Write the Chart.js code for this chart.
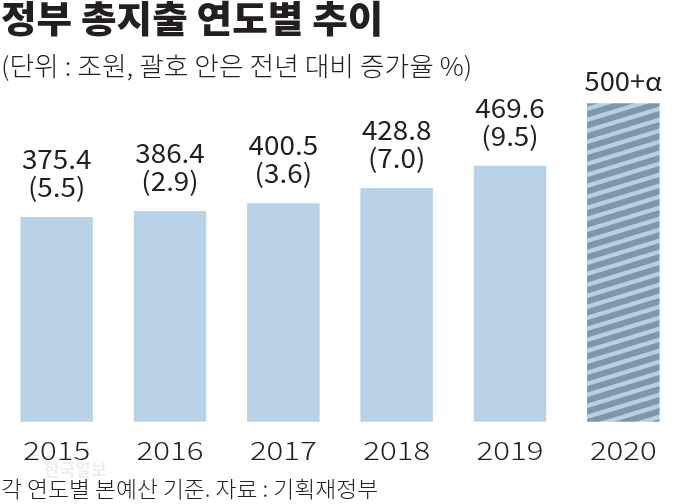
<!DOCTYPE html>
<html>
<head>
<meta charset="utf-8">
<script src="https://cdn.jsdelivr.net/npm/chart.js@4.4.1/dist/chart.umd.min.js"></script>
<style>
  html, body { margin: 0; padding: 0; background: #fff; }
  #wrap { width: 680px; height: 504px; position: relative; }
</style>
</head>
<body>
<div id="wrap"><canvas id="spending" width="680" height="504"></canvas></div>
<script>
// Data
const years = ['2015', '2016', '2017', '2018', '2019', '2020'];
// 2020 bar is drawn taller than scale
const totals = [375.4, 386.4, 400.5, 428.8, 469.6, 584];
const valueLabels = ['375.4', '386.4', '400.5', '428.8', '469.6', '500+α'];
const growthLabels = ['(5.5)', '(2.9)', '(3.6)', '(7.0)', '(9.5)', ''];

const titleText = '정부 총지출 연도별 추이';
const subtitleText = '(단위 : 조원, 괄호 안은 전년 대비 증가율 %)';
const footerText = '각 연도별 본예산 기준. 자료 : 기획재정부';

const KR = '"Noto Sans CJK KR", "Noto Sans", sans-serif';

// Hatched fill for the 2020 (projected) bar
function makeStripes() {
    const w = 36, h = 11;
    const c = document.createElement('canvas');
    c.width = w; c.height = h;
    const g = c.getContext('2d');
    g.fillStyle = '#7f97aa';
    g.fillRect(0, 0, w, h);
    g.fillStyle = '#b6d1e6';
    for (let j = -1; j <= 2; j++) {
        const y0 = j * h;
        g.beginPath();
        g.moveTo(0, y0);
        g.lineTo(w, y0 - h);
        g.lineTo(w, y0 - h + 4.5);
        g.lineTo(0, y0 + 4.5);
        g.closePath();
        g.fill();
    }
    return g.createPattern(c, 'repeat');
}

const barColors = totals.map((v, i) => i === totals.length - 1 ? makeStripes() : '#b8d3e8');

// text drawn a bit wider than the font's own width (the original face is wider)
function wideText(ctx, text, x, y, sx) {
    ctx.save();
    ctx.translate(x, y);
    ctx.scale(sx, 1);
    ctx.fillText(text, 0, 0);
    ctx.restore();
}

// Title, notes, value labels and year labels
const textPlugin = {
    id: 'textPlugin',
    afterDatasetsDraw(chart) {
        const ctx = chart.ctx;
        const meta = chart.getDatasetMeta(0);
        ctx.save();
        ctx.fillStyle = '#231f20';
        ctx.textAlign = 'center';
        ctx.textBaseline = 'alphabetic';

        meta.data.forEach((bar, i) => {
            const top = bar.y;
            ctx.font = '26px ' + KR;
            if (growthLabels[i]) {
                wideText(ctx, valueLabels[i], bar.x, top - 48, 1.07);
                wideText(ctx, growthLabels[i], bar.x, top - 20, 1.07);
            } else {
                wideText(ctx, valueLabels[i], bar.x, top - 12, 1.05);
            }
        });

        // year labels under the bars
        const xs = chart.scales.x;
        ctx.font = '300 25px ' + KR;
        ctx.textBaseline = 'middle';
        years.forEach((y, i) => {
            wideText(ctx, y, xs.getPixelForValue(i), 450, 1.25);
        });

        ctx.textAlign = 'left';
        ctx.font = '900 37px ' + KR;
        wideText(ctx, titleText, 1, 19, 1.045);
        ctx.font = '300 26px ' + KR;
        wideText(ctx, subtitleText, 1, 66, 1.03);
        ctx.font = '300 22px ' + KR;
        wideText(ctx, footerText, 1, 489, 1.036);

        // faint watermark
        ctx.fillStyle = 'rgba(0,0,0,0.07)';
        ctx.font = 'bold 17px ' + KR;
        ctx.fillText('한국일보', 44, 470);
        ctx.restore();
    }
};

const chartdata = {
    labels: years,
    datasets: [{
        data: totals,
        backgroundColor: barColors,
        borderWidth: 0,
        barPercentage: 0.64,
        categoryPercentage: 1.0
    }]
};

const chartconfig = {
    type: 'bar',
    data: chartdata,
    options: {
        responsive: false,
        animation: false,
        layout: { padding: { top: 100, bottom: 79, left: 0, right: 0 } },
        plugins: {
            legend: { display: false },
            tooltip: { enabled: false },
            title: { display: false }
        },
        scales: {
            x: { display: false },
            y: { display: false, min: -6, max: 590 }
        }
    },
    plugins: [textPlugin]
};

new Chart(document.getElementById('spending'), chartconfig);
</script>
</body>
</html>
